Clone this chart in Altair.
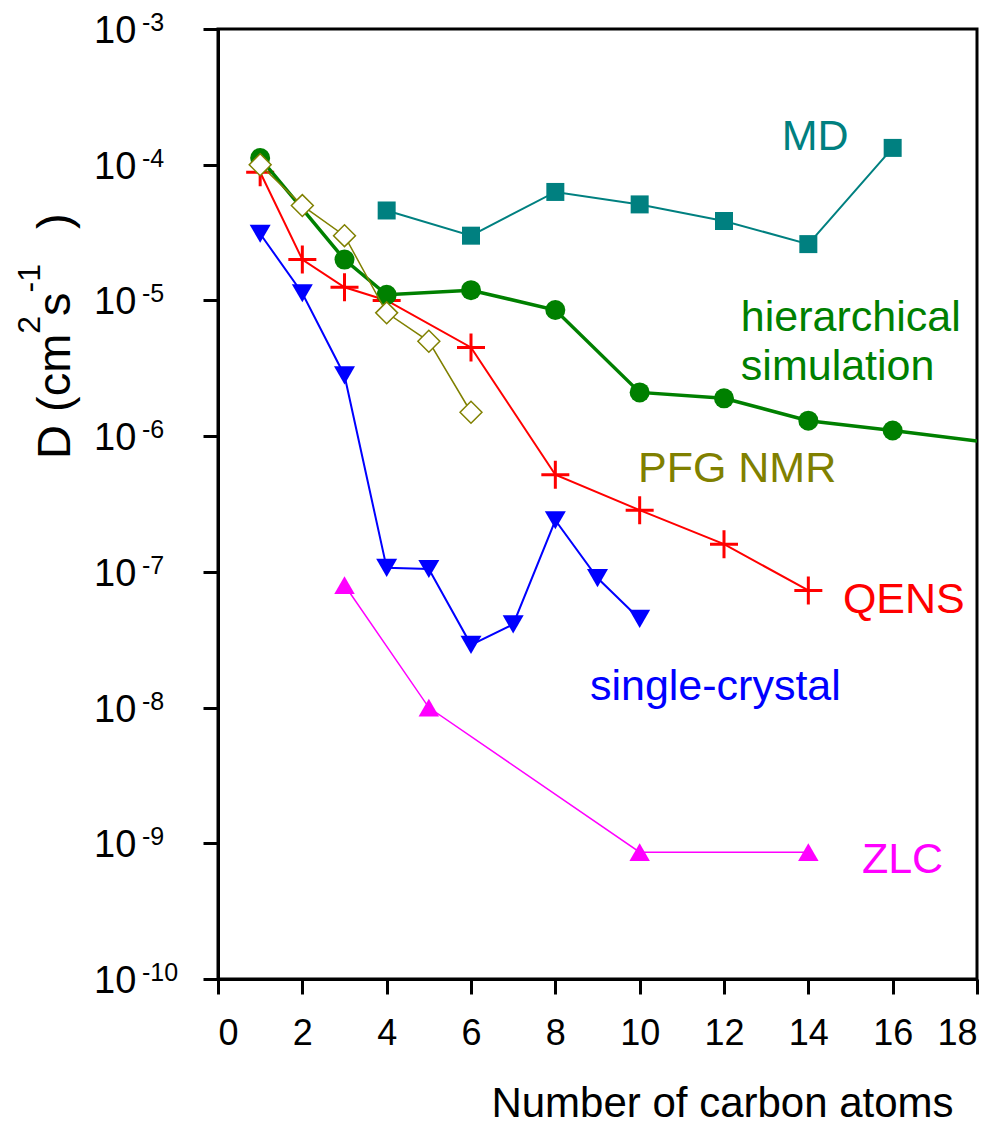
import altair as alt
import pandas as pd

# Diffusivity of n-alkanes vs chain length, by measurement technique
md_x = [4, 6, 8, 10, 12, 14, 16]
md_d = [4.6e-5, 3.0e-5, 6.3e-5, 5.1e-5, 3.85e-5, 2.6e-5, 1.33e-4]

hier_x = [1, 3, 4, 6, 8, 10, 12, 14, 16]
hier_d = [1.12e-4, 2.0e-5, 1.1e-5, 1.19e-5, 8.5e-6, 2.1e-6, 1.9e-6, 1.3e-6, 1.1e-6]
hier_tail_x = [16, 18]
hier_tail_d = [1.1e-6, 9.2e-7]

pfg_x = [1, 2, 3, 4, 5, 6]
pfg_d = [1.0e-4, 5.0e-5, 3.0e-5, 8.1e-6, 5.0e-6, 1.5e-6]

qens_x = [1, 2, 3, 4, 6, 8, 10, 12, 14]
qens_d = [8.8e-5, 2.0e-5, 1.25e-5, 1.0e-5, 4.5e-6, 5.2e-7, 2.85e-7, 1.6e-7, 7.3e-8]

sc_x = [1, 2, 3, 4, 5, 6, 7, 8, 9, 10]
sc_d = [3.1e-5, 1.13e-5, 2.8e-6, 1.07e-7, 1.05e-7, 2.9e-8, 4.1e-8, 2.4e-7, 9.0e-8, 4.5e-8]

zlc_x = [3, 5, 10, 14]
zlc_d = [8.0e-8, 1.0e-8, 8.6e-10, 8.6e-10]

label_text = ["MD", "hierarchical", "simulation", "PFG NMR", "QENS", "single-crystal", "ZLC"]
label_x = [13.37, 12.40, 12.40, 9.96, 14.82, 8.82, 15.27]
label_d = [1.28e-4, 5.95e-6, 2.59e-6, 4.59e-7, 4.97e-8, 1.135e-8, 6.03e-10]
label_color = ["#008080", "#008000", "#008000", "#808000", "#FF0000", "#0000FF", "#FF00FF"]

decade_exp = [-3, -4, -5, -6, -7, -8, -9, -10]

# y-axis title pieces: text, font size, start (px from plot top), baseline (px from plot left)
ytitle_text = ["D (cm", "2", "s", "-1", ")"]
ytitle_size = [47, 32, 47, 32, 47]
ytitle_start = [430, 304.7, 286.9, 263.4, 200]
ytitle_base = [-148, -178, -148, -178, -148]

FONT = "Liberation Sans"
W, H = 759, 950

x_scale = alt.Scale(domain=[0, 18], nice=False, zero=False)
y_scale = alt.Scale(type="log", domain=[1e-10, 1e-3], nice=False)

x_axis = alt.Axis(
    values=list(range(0, 19, 2)), grid=False,
    labelFont=FONT, labelFontSize=36, labelColor="black", labelPadding=22,
    tickSize=15, tickWidth=3, tickColor="black",
    domainWidth=3, domainColor="black",
    title="Number of carbon atoms", titleFont=FONT, titleFontSize=42,
    titleFontWeight="normal", titleColor="black",
    titleX=504, titleY=137, titleBaseline="alphabetic", titleAlign="center",
)
y_axis = alt.Axis(
    values=[10.0 ** e for e in decade_exp], grid=False, labels=False,
    tickSize=15, tickWidth=3, tickColor="black",
    domainWidth=3, domainColor="black", title=None,
)


def enc(chart):
    return chart.encode(
        x=alt.X("x:Q", scale=x_scale, axis=x_axis),
        y=alt.Y("d:Q", scale=y_scale, axis=y_axis),
    )


def series(xs, ds, color, shape, size, stroke_width):
    base = enc(alt.Chart(pd.DataFrame({"x": xs, "d": ds})))
    line = base.mark_line(color=color, strokeWidth=stroke_width, clip=True)
    pts = base.mark_point(shape=shape, size=size, filled=True, color=color, opacity=1)
    return line + pts


plus_path = "M-1,0L1,0M0,-1L0,1"

md = series(md_x, md_d, "#008080", "square", 324, 2)

qens_base = enc(alt.Chart(pd.DataFrame({"x": qens_x, "d": qens_d})))
qens = qens_base.mark_line(color="#FF0000", strokeWidth=2) + qens_base.mark_point(
    shape=plus_path, size=784, filled=False, stroke="#FF0000", strokeWidth=3, opacity=1
)

sc = series(sc_x, sc_d, "#0000FF", "triangle-down", 441, 2)
zlc = series(zlc_x, zlc_d, "#FF00FF", "triangle-up", 420, 1.5)

hier_tail = enc(alt.Chart(pd.DataFrame({"x": hier_tail_x, "d": hier_tail_d}))).mark_line(
    color="#008000", strokeWidth=3.5, clip=True
)
hier = series(hier_x, hier_d, "#008000", "circle", 400, 3.5)

pfg_base = enc(alt.Chart(pd.DataFrame({"x": pfg_x, "d": pfg_d})))
pfg = pfg_base.mark_line(color="#808000", strokeWidth=1.5) + pfg_base.mark_point(
    shape="diamond", size=480, filled=True, fill="white", stroke="#808000",
    strokeWidth=1.5, opacity=1,
)

# Series names written next to their curves
labels_df = pd.DataFrame({"t": label_text, "x": label_x, "d": label_d, "c": label_color})
labels = enc(alt.Chart(labels_df)).mark_text(
    align="left", baseline="alphabetic", font=FONT, fontSize=43
).encode(
    text="t:N",
    color=alt.Color("c:N", scale=None),
)

# Decade tick labels drawn as base plus superscript exponent
ticks_df = pd.DataFrame({
    "d": [10.0 ** e for e in decade_exp],
    "base": ["10"] * len(decade_exp),
    "exp": [str(e) for e in decade_exp],
})
tick_base = alt.Chart(ticks_df).mark_text(
    align="left", baseline="alphabetic", dy=14, font=FONT, fontSize=38, color="black"
).encode(
    x=alt.value(-124),
    y=alt.Y("d:Q", scale=y_scale, axis=y_axis),
    text="base:N",
)
tick_exp = alt.Chart(ticks_df).mark_text(
    align="left", baseline="alphabetic", dy=2, font=FONT, fontSize=25, color="black"
).encode(
    x=alt.value(-76),
    y=alt.Y("d:Q", scale=y_scale, axis=y_axis),
    text="exp:N",
)

# Rotated y-axis title with superscripted units
ytitle_layers = [
    alt.Chart(pd.DataFrame({"t": [t]})).mark_text(
        align="left", baseline="alphabetic", angle=270, font=FONT, fontSize=s, color="black"
    ).encode(x=alt.value(b), y=alt.value(st), text="t:N")
    for t, s, st, b in zip(ytitle_text, ytitle_size, ytitle_start, ytitle_base)
]

chart = alt.layer(
    md, qens, sc, zlc, hier_tail, hier, pfg, labels, tick_base, tick_exp, *ytitle_layers
).properties(
    width=W, height=H,
    autosize=alt.AutoSizeParams(type="none"),
    padding={"left": 218, "top": 29, "right": 28, "bottom": 147},
    background="white",
).configure_view(
    stroke="black", strokeWidth=3
)

chart.save("out.html", embed_options={"renderer": "svg", "actions": False})
